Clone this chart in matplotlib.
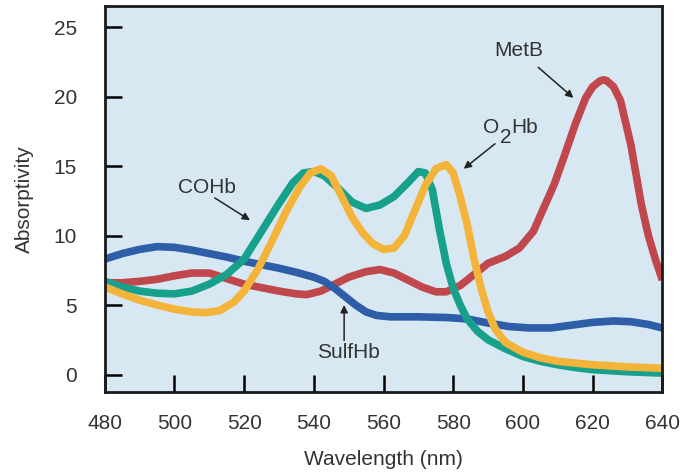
import matplotlib.pyplot as plt

plt.rcParams['font.family'] = ['Liberation Sans', 'DejaVu Sans']

# values
sulf_x = [480, 485, 490, 495, 500, 505, 510, 515, 520, 525, 530, 535, 540, 543, 546, 549,
          552, 555, 558, 562, 570, 578, 584, 590, 596, 602, 608, 614, 620, 626, 631, 636, 640]
sulf_y = [8.3, 8.7, 9.0, 9.2, 9.15, 8.95, 8.7, 8.45, 8.15, 7.9, 7.65, 7.35, 7.0, 6.7, 6.2, 5.6,
          5.0, 4.5, 4.25, 4.15, 4.15, 4.1, 4.0, 3.7, 3.45, 3.35, 3.35, 3.55, 3.75, 3.85, 3.8, 3.6, 3.35]

metb_x = [480, 485, 490, 495, 500, 505, 510, 515, 520, 525, 530, 535, 538, 542, 546, 550, 555,
          559, 563, 567, 571, 575, 578, 582, 586, 590, 595, 599, 603, 606, 609, 612, 615, 618,
          620, 622, 623, 624, 626, 628, 631, 634, 636, 638, 640]
metb_y = [6.6, 6.6, 6.7, 6.85, 7.1, 7.3, 7.3, 6.9, 6.5, 6.25, 6.0, 5.8, 5.75, 6.0, 6.5, 7.0, 7.4,
          7.55, 7.3, 6.8, 6.3, 5.95, 5.95, 6.4, 7.2, 8.0, 8.5, 9.1, 10.3, 12.0, 13.7, 15.8, 18.0, 19.9,
          20.7, 21.1, 21.2, 21.15, 20.7, 19.7, 16.5, 12.2, 10.0, 8.3, 6.8]

cohb_x = [480, 485, 490, 495, 500, 505, 510, 515, 520, 525, 530, 534, 537, 540, 543, 547, 551,
          555, 559, 563, 567, 570, 572, 574, 576, 578, 580, 582, 584, 587, 590, 595, 600, 605,
          610, 615, 620, 630, 640]
cohb_y = [6.7, 6.3, 6.0, 5.85, 5.8, 6.0, 6.5, 7.2, 8.3, 10.3, 12.3, 13.8, 14.5, 14.6, 14.3, 13.4, 12.4,
          11.95, 12.2, 12.8, 13.8, 14.6, 14.5, 13.3, 10.5, 8.0, 6.2, 5.0, 4.0, 3.1, 2.5, 1.85, 1.3, 0.95,
          0.7, 0.5, 0.35, 0.2, 0.1]

o2hb_x = [480, 485, 490, 495, 500, 505, 509, 513, 517, 520, 524, 528, 532, 536, 539, 542, 545, 548,
          551, 554, 557, 560, 563, 566, 569, 572, 575, 578, 580, 582, 584, 586, 588, 590, 592, 595,
          600, 605, 610, 620, 630, 640]
o2hb_y = [6.3, 5.8, 5.35, 5.0, 4.7, 4.5, 4.45, 4.6, 5.2, 6.0, 7.6, 9.6, 11.7, 13.5, 14.5, 14.8, 14.3, 12.8,
          11.3, 10.2, 9.4, 9.0, 9.1, 10.0, 11.8, 13.6, 14.8, 15.1, 14.5, 12.8, 10.8, 8.3, 6.2, 4.5, 3.3, 2.3,
          1.6, 1.2, 0.95, 0.7, 0.55, 0.45]

txt = '#333333'
fs = 15

fig = plt.figure(figsize=(6.8, 4.75), dpi=100)
ax = fig.add_axes([0.154, 0.175, 0.82, 0.812])
ax.set_facecolor('#d7e8f2')

lw = 5.5
style = dict(lw=lw, solid_capstyle='butt', solid_joinstyle='round')
ax.plot(metb_x, metb_y, color='#c0474b', **style)
ax.plot(sulf_x, sulf_y, color='#2f5ea8', **style)
ax.plot(cohb_x, cohb_y, color='#17a08c', **style)
ax.plot(o2hb_x, o2hb_y, color='#f4b43a', **style)

arrow = dict(arrowstyle='-|>', color='#222222', lw=1.1, mutation_scale=11, shrinkA=0, shrinkB=0)
ax.text(598.7, 23.3, 'MetB', ha='center', va='center', fontsize=fs, color=txt)
ax.annotate('', xy=(614.5, 19.9), xytext=(604.4, 22.1), arrowprops=arrow)
# O2Hb label: the "2" is near full size, set lower
ax.text(588.6, 17.8, 'O', ha='left', va='center', fontsize=fs, color=txt)
ax.text(593.3, 17.05, '2', ha='left', va='center', fontsize=fs, color=txt)
ax.text(596.7, 17.8, 'Hb', ha='left', va='center', fontsize=fs, color=txt)
ax.annotate('', xy=(583, 14.8), xytext=(592, 16.6), arrowprops=arrow)
ax.text(509.3, 13.45, 'COHb', ha='center', va='center', fontsize=fs, color=txt)
ax.annotate('', xy=(521.7, 11.1), xytext=(511.6, 12.7), arrowprops=arrow)
ax.text(549.8, 1.6, 'SulfHb', ha='center', va='center', fontsize=fs, color=txt)
ax.annotate('', xy=(548.7, 5.0), xytext=(548.7, 2.45), arrowprops=arrow)

ax.set_xlim(480, 640)
ax.set_ylim(-1.25, 26.5)
ax.set_xticks(range(480, 641, 20))
ax.set_yticks(range(0, 26, 5))
ax.tick_params(direction='in', length=12, width=1.8, labelsize=fs, labelcolor=txt)
ax.tick_params(axis='x', pad=16)
ax.tick_params(axis='y', pad=20)
for s in ax.spines.values():
    s.set_linewidth(2)
    s.set_color('#1a1a1a')

ax.set_xlabel('Wavelength (nm)', fontsize=fs, color=txt, labelpad=12)
ax.set_ylabel('Absorptivity', fontsize=fs, color=txt, labelpad=14)

fig.savefig('out.png', dpi=100)
